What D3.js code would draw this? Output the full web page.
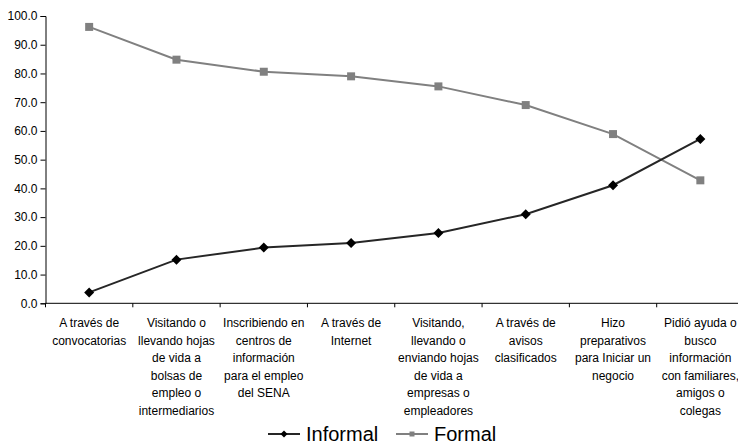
<!DOCTYPE html>
<html>
<head>
<meta charset="utf-8">
<script src="https://cdn.jsdelivr.net/npm/d3@7"></script>
<style>
  html, body { margin: 0; padding: 0; background: #fff; }
  svg { display: block; font-family: "Liberation Sans", Arial, sans-serif; }
</style>
</head>
<body>
<svg id="chart" width="738" height="443"></svg>
<script>
// Job-search channels, each split into informal / formal shares (%)
const categories = [
  ["A través de", "convocatorias"],
  ["Visitando o", "llevando hojas", "de vida a", "bolsas de", "empleo o", "intermediarios"],
  ["Inscribiendo en", "centros de", "información", "para el empleo", "del SENA"],
  ["A través de", "Internet"],
  ["Visitando,", "llevando o", "enviando hojas", "de vida a", "empresas o", "empleadores"],
  ["A través de", "avisos", "clasificados"],
  ["Hizo", "preparativos", "para Iniciar un", "negocio"],
  ["Pidió ayuda o", "busco", "información", "con familiares,", "amigos o", "colegas"]
];
const informal = [3.8, 15.2, 19.4, 21.0, 24.5, 31.0, 41.1, 57.2];
const formal   = [96.2, 84.8, 80.6, 79.0, 75.5, 69.0, 58.9, 42.8];
const yTicks = [0, 10, 20, 30, 40, 50, 60, 70, 80, 90, 100];

const svg = d3.select("#chart");
const margin = { left: 45.5, top: 16, right: -6 };
const W = 738;
const plotBottom = 303.3;

const x = d3.scaleBand()
  .domain(d3.range(categories.length))
  .range([margin.left, W - margin.right])
  .paddingInner(0).paddingOuter(0);

const y = d3.scaleLinear().domain([0, 100]).range([plotBottom, margin.top]);

// Y axis
const yAxis = svg.append("g")
  .attr("transform", `translate(${margin.left},0)`)
  .call(d3.axisLeft(y).tickValues(yTicks).tickFormat(d3.format(".1f")).tickSize(5).tickPadding(3));
yAxis.select(".domain").attr("stroke", "#000").attr("stroke-width", 1);
yAxis.selectAll(".tick line").attr("stroke", "#000");
yAxis.selectAll("text").attr("font-size", 12).attr("fill", "#000")
  .attr("font-family", "'Liberation Sans', Arial, sans-serif");

// X axis: ticks on category boundaries
const xAxisG = svg.append("g").attr("transform", `translate(0,${plotBottom})`);
xAxisG.append("line")
  .attr("x1", margin.left).attr("x2", W - margin.right)
  .attr("stroke", "#000").attr("stroke-width", 1);
xAxisG.selectAll("line.tk")
  .data(d3.range(categories.length + 1))
  .join("line").attr("class", "tk")
  .attr("x1", i => i < categories.length ? x(i) : x(categories.length - 1) + x.bandwidth())
  .attr("x2", i => i < categories.length ? x(i) : x(categories.length - 1) + x.bandwidth())
  .attr("y1", 0).attr("y2", 4)
  .attr("stroke", "#000");

// Category labels, one tspan per line
const lab = svg.append("g").selectAll("text")
  .data(categories)
  .join("text")
  .attr("text-anchor", "middle")
  .attr("font-size", 12)
  .attr("fill", "#000")
  .attr("x", (d, i) => x(i) + x.bandwidth() / 2)
  .attr("y", 327);
lab.selectAll("tspan")
  .data((d, i) => d.map(s => ({ s, i })))
  .join("tspan")
  .attr("x", d => x(d.i) + x.bandwidth() / 2)
  .attr("dy", (d, j) => j === 0 ? 0 : 17.6)
  .text(d => d.s);

const cx = i => x(i) + x.bandwidth() / 2;
const line = d3.line().x((d, i) => cx(i)).y(d => y(d));

// Diamond marker: a square turned by 45 degrees
const diamondPath = r => `M0,${-r}L${r},0L0,${r}L${-r},0Z`;
const squarePath = h => `M${-h},${-h}H${h}V${h}H${-h}Z`;

// Formal series
svg.append("path").datum(formal)
  .attr("d", line).attr("fill", "none")
  .attr("stroke", "#808080").attr("stroke-width", 2);
svg.append("g").selectAll("path")
  .data(formal).join("path")
  .attr("transform", (d, i) => `translate(${cx(i)},${y(d)})`)
  .attr("d", squarePath(4))
  .attr("fill", "#808080");

// Informal series
svg.append("path").datum(informal)
  .attr("d", line).attr("fill", "none")
  .attr("stroke", "#262626").attr("stroke-width", 2);
svg.append("g").selectAll("path")
  .data(informal).join("path")
  .attr("transform", (d, i) => `translate(${cx(i)},${y(d)})`)
  .attr("d", diamondPath(5))
  .attr("fill", "#000");

// Legend
const legend = [
  { name: "Informal", x0: 268, color: "#262626", fill: "#000", sym: diamondPath(3.5) },
  { name: "Formal", x0: 396, color: "#808080", fill: "#808080", sym: squarePath(2.5) }
];
const lg = svg.append("g").selectAll("g").data(legend).join("g")
  .attr("transform", d => `translate(${d.x0},434)`);
lg.append("line").attr("x1", 0).attr("x2", 32)
  .attr("stroke", d => d.color).attr("stroke-width", 2);
lg.append("path").attr("transform", "translate(16,0)")
  .attr("d", d => d.sym).attr("fill", d => d.fill);
lg.append("text").attr("x", 38).attr("y", 6.5)
  .attr("font-size", 20).attr("fill", "#000")
  .text(d => d.name);
</script>
</body>
</html>
